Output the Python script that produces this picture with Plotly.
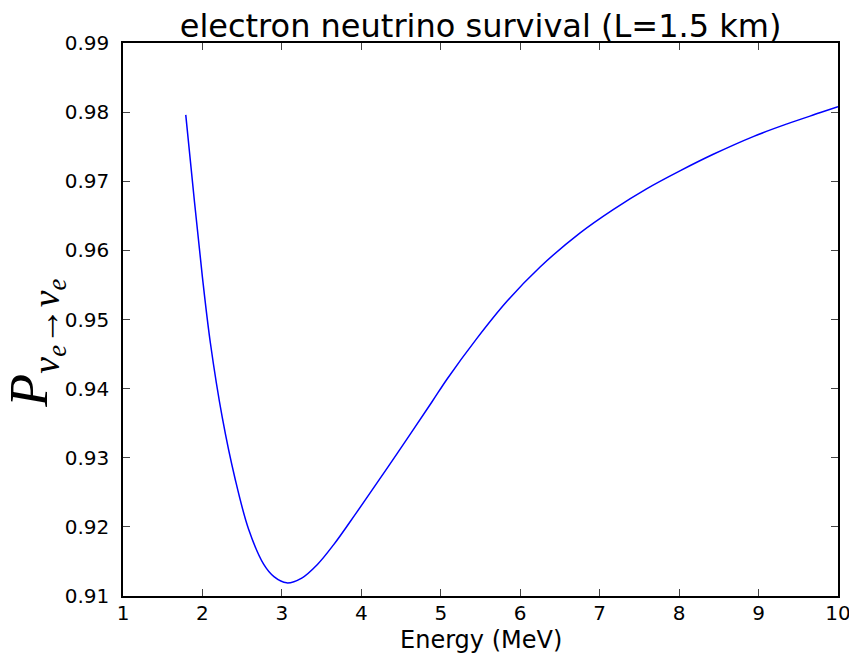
import plotly.graph_objects as go

# energy (MeV) and survival probability
energy = [1.79, 1.90, 2.00, 2.10, 2.25, 2.41, 2.58, 2.77, 2.90, 3.06, 3.25, 3.45,
          3.65, 3.85, 4.05, 4.45, 4.89, 5.08, 5.45, 5.83, 6.25, 6.75, 7.17,
          7.59, 8.01, 8.43, 8.94, 9.36, 9.77, 10.0]
prob = [0.9796, 0.9670, 0.9561, 0.9466, 0.9358, 0.9270, 0.9197, 0.9146, 0.9128,
        0.9119, 0.9126, 0.9146, 0.9174, 0.9206, 0.9239, 0.9306, 0.9381, 0.9414,
        0.9472, 0.9526, 0.9576, 0.9625, 0.9659, 0.9689, 0.9715, 0.9739, 0.9765,
        0.9783, 0.9799, 0.9808]

x_ticks = [1, 2, 3, 4, 5, 6, 7, 8, 9, 10]
y_ticks = [0.91, 0.92, 0.93, 0.94, 0.95, 0.96, 0.97, 0.98, 0.99]

fig = go.Figure()

fig.add_trace(
    go.Scatter(
        x=energy,
        y=prob,
        mode="lines",
        line=dict(color="#0000ff", width=1.5, shape="spline", smoothing=1.0),
        showlegend=False
    )
)

axis_style = dict(
    showline=True,
    linecolor="black",
    linewidth=1.5,
    mirror="ticks",
    ticks="inside",
    ticklen=7,
    tickwidth=1,
    tickcolor="#444444",
    showgrid=False,
    zeroline=False,
    automargin=False,
    ticklabeloverflow="allow",
    tickfont=dict(family="DejaVu Sans", size=20, color="black"),
)

fig.update_xaxes(
    range=[1, 10],
    tickvals=x_ticks,
    ticktext=[str(v) for v in x_ticks],
    ticklabelstandoff=-2,
    **axis_style
)

fig.update_yaxes(
    range=[0.91, 0.99],
    tickvals=y_ticks,
    ticktext=["%.2f" % v for v in y_ticks],
    ticklabelstandoff=8,
    **axis_style
)

# axis titles as annotations so they sit where the reference has them
fig.add_annotation(
    text="Energy (MeV)",
    xref="paper", yref="paper",
    x=0.5, y=-0.0795,
    xanchor="center", yanchor="middle",
    showarrow=False,
    font=dict(family="DejaVu Sans", size=24, color="black")
)

fig.add_annotation(
    text="<i>P<sub>ν<sub>e</sub>→ν<sub>e</sub></sub></i>",
    xref="paper", yref="paper",
    x=-0.1218, y=0.458,
    xanchor="center", yanchor="middle",
    textangle=-90,
    showarrow=False,
    font=dict(family="Liberation Serif", size=54, color="black")
)

fig.update_layout(
    width=849,
    height=653,
    margin=dict(l=123, r=11, t=43, b=57),
    paper_bgcolor="white",
    plot_bgcolor="white",
    title=dict(
        text="electron neutrino survival (L=1.5 km)",
        font=dict(family="DejaVu Sans", size=32, color="black"),
        x=0.566, xanchor="center",
        y=0.9608, yanchor="middle"
    )
)

# drop the default 8px body margin so the figure fills the window exactly
fig.write_html("out.html", config={"displayModeBar": False},
               post_script="document.body.style.margin='0px';")
